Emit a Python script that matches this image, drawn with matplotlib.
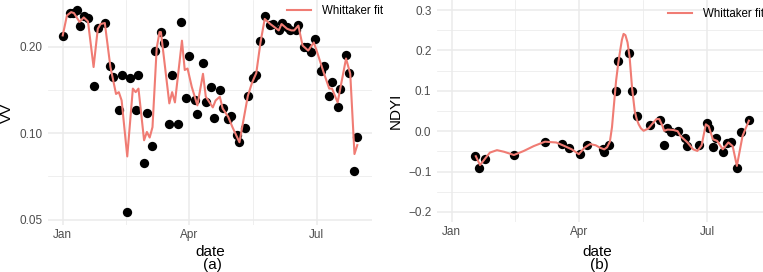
import pandas as pd
import numpy as np
import matplotlib
matplotlib.use('Agg')
import matplotlib.pyplot as plt
import matplotlib.dates as mdates
from matplotlib.ticker import FixedLocator, NullFormatter

plt.rcParams['font.family'] = ['Liberation Sans', 'DejaVu Sans']

start = pd.Timestamp('2019-01-01')

# panel (a): VV observations (day offset from Jan 1, value)
vv_day = [0, 5, 7, 10, 12, 15, 18, 22, 25, 30, 34, 36, 40, 42, 46, 48, 52, 54,
          58, 60, 64, 66, 70, 72, 76, 78, 82, 84, 88, 90, 94, 96, 100, 102,
          106, 108, 112, 114, 118, 120, 124, 126, 130, 132, 136, 138, 141,
          144, 148, 150, 154, 156, 160, 162, 166, 168, 172, 174, 177, 180,
          184, 186, 190, 192, 196, 198, 202, 204, 208, 210]
vv_val = [0.218, 0.262, 0.263, 0.268, 0.237, 0.255, 0.252, 0.146, 0.233, 0.242,
          0.171, 0.157, 0.120, 0.160, 0.053, 0.156, 0.120, 0.160, 0.0785, 0.118,
          0.090, 0.194, 0.225, 0.206, 0.1075, 0.160, 0.108, 0.244, 0.133, 0.185,
          0.131, 0.117, 0.175, 0.128, 0.145, 0.113, 0.141, 0.122, 0.112, 0.115,
          0.0984, 0.093, 0.1046, 0.135, 0.156, 0.160, 0.209, 0.255, 0.239, 0.240,
          0.229, 0.242, 0.234, 0.229, 0.228, 0.239, 0.200, 0.199, 0.192, 0.213,
          0.165, 0.172, 0.135, 0.151, 0.123, 0.142, 0.187, 0.162, 0.074, 0.097]

# panel (a): Whittaker fit
vv_fit_day = [0, 3, 6, 8, 12, 15, 18, 22, 25, 27, 30, 34, 38, 40, 42, 46, 50,
              52, 54, 58, 60, 62, 64, 67, 69, 70, 76, 78, 80, 85, 87, 89, 92,
              96, 100, 102, 107, 109, 112, 114, 118, 121, 126, 132, 135, 138,
              141, 144, 148, 151, 154, 156, 160, 163, 165, 168, 171, 175, 179,
              181, 186, 190, 192, 196, 202, 205, 208, 210]
vv_fit = [0.219, 0.257, 0.264, 0.262, 0.244, 0.253, 0.245, 0.170, 0.231, 0.240,
          0.242, 0.170, 0.137, 0.139, 0.130, 0.083, 0.143, 0.139, 0.143, 0.0945,
          0.101, 0.0966, 0.105, 0.198, 0.225, 0.225, 0.127, 0.139, 0.128, 0.210,
          0.166, 0.168, 0.145, 0.125, 0.161, 0.134, 0.123, 0.130, 0.134, 0.122,
          0.114, 0.105, 0.093, 0.135, 0.150, 0.162, 0.207, 0.250, 0.240, 0.234,
          0.228, 0.240, 0.231, 0.228, 0.228, 0.237, 0.202, 0.194, 0.207, 0.194,
          0.163, 0.143, 0.143, 0.128, 0.182, 0.161, 0.0846, 0.0909]

# panel (b): NDYI observations
nd_day = [16.5, 19, 23.5, 44, 66, 78, 83, 91, 96, 107, 108, 111.5, 116, 118,
          125.5, 127.5, 131, 140.5, 147.5, 150.5, 152.5, 155, 160, 165.5, 167,
          175.5, 180.5, 182.5, 185, 187.5, 192, 195, 197.5, 202, 205, 210.5]
nd_val = [-0.061, -0.092, -0.070, -0.059, -0.026, -0.032, -0.041, -0.057, -0.034,
          -0.045, -0.051, -0.034, 0.099, 0.173, 0.194, 0.099, 0.038, 0.016, 0.027,
          -0.033, 0.007, -0.001, 0.001, -0.017, -0.037, -0.033, 0.021, 0.009,
          -0.038, -0.016, -0.051, -0.030, -0.026, -0.092, -0.002, 0.027]

# panel (b): Whittaker fit
nd_fit_day = [17, 20, 24, 27, 32, 37, 44, 51, 58, 66, 74, 80, 85, 90, 94, 98,
              102, 105, 108, 110, 112, 113.5, 114.5, 116.4, 118, 119.3, 120.5,
              121.7, 123, 124.5, 126, 127.7, 129.6, 131, 132.4, 134, 135.9,
              139.4, 142, 145, 147, 149, 150.5, 153, 157, 160, 162, 167, 171,
              174, 177, 180, 182, 185, 188, 192, 196, 199, 202, 206, 210.5]
nd_fit = [-0.062, -0.084, -0.066, -0.053, -0.047, -0.051, -0.059, -0.049, -0.037,
          -0.026, -0.028, -0.037, -0.045, -0.057, -0.041, -0.032, -0.035, -0.041,
          -0.045, -0.040, -0.026, 0.010, 0.050, 0.125, 0.170, 0.200, 0.226,
          0.241, 0.238, 0.220, 0.183, 0.108, 0.050, 0.030, 0.017, 0.007, 0.001,
          0.007, 0.018, 0.030, 0.030, 0.015, 0.001, 0.004, 0.003, 0.000, -0.012,
          -0.028, -0.045, -0.049, -0.035, 0.017, 0.012, -0.020, -0.024, -0.045,
          -0.028, -0.037, -0.086, -0.012, 0.026]


def to_dates(days):
    return start + pd.to_timedelta(np.array(days, dtype=float), unit='D')


line_col = '#F07C74'
grid_col = '#EBEBEB'
tick_col = '#4D4D4D'
W, H = 763, 272

fig = plt.figure(figsize=(W / 100, H / 100), dpi=100)
ax1 = fig.add_axes([48 / W, 47 / H, 324 / W, 225 / H])
ax2 = fig.add_axes([437 / W, 50 / H, 326 / W, 222 / H])

major_x = [start, pd.Timestamp('2019-04-01'), pd.Timestamp('2019-07-01')]
minor_x = [pd.Timestamp('2019-02-15'), pd.Timestamp('2019-05-16 12:00')]
xlim = (start - pd.Timedelta(days=10.5), start + pd.Timedelta(days=220.5))

for ax, lab in [(ax1, 'VV'), (ax2, 'NDYI')]:
    for s in ax.spines.values():
        s.set_visible(False)
    ax.set_xlim(xlim)
    ax.xaxis.set_major_locator(FixedLocator(mdates.date2num(major_x)))
    ax.xaxis.set_minor_locator(FixedLocator(mdates.date2num(minor_x)))
    ax.xaxis.set_major_formatter(mdates.DateFormatter('%b'))
    ax.tick_params(which='both', length=0, labelsize=8.5, colors=tick_col)
    ax.tick_params(axis='x', pad=3)
    ax.tick_params(axis='y', pad=4)
    ax.grid(which='major', color=grid_col, linewidth=1.1)
    ax.grid(which='minor', color=grid_col, linewidth=0.55)
    ax.set_axisbelow(True)
    ax.set_ylabel(lab, fontsize=11, labelpad=4)

# x titles and panel captions
for cx, cap in [(210, '(a)'), (597, '(b)')]:
    fig.text(cx / W, 1 - 252.5 / H, 'date', fontsize=11, ha='center', va='center')
    fig.text((cx + 2) / W, 1 - 265.5 / H, cap, fontsize=11, ha='center', va='center')

# (a) VV on log scale
ax1.scatter(to_dates(vv_day), vv_val, s=45, color='black', zorder=2, linewidths=0)
ax1.plot(to_dates(vv_fit_day), vv_fit, color=line_col, lw=1.5, zorder=3,
         label='Whittaker fit')
ax1.set_yscale('log')
ax1.set_ylim(0.0479, 0.291)
ax1.yaxis.set_major_locator(FixedLocator([0.05, 0.10, 0.20]))
ax1.yaxis.set_minor_locator(FixedLocator([0.05 * 2 ** 0.5, 0.10 * 2 ** 0.5]))
ax1.yaxis.set_minor_formatter(NullFormatter())
ax1.set_yticklabels(['0.05', '0.10', '0.20'])

# (b) NDYI
ax2.scatter(to_dates(nd_day), nd_val, s=45, color='black', zorder=2, linewidths=0)
ax2.plot(to_dates(nd_fit_day), nd_fit, color=line_col, lw=1.5, zorder=3,
         label='Whittaker fit')
ax2.set_ylim(-0.225, 0.325)
ax2.yaxis.set_major_locator(FixedLocator([-0.2, -0.1, 0.0, 0.1, 0.2, 0.3]))
ax2.yaxis.set_minor_locator(FixedLocator([-0.15, -0.05, 0.05, 0.15, 0.25]))
ax2.set_yticklabels(['\u22120.2', '\u22120.1', '0.0', '0.1', '0.2', '0.3'])

ax1.legend(loc='upper right', bbox_to_anchor=(1.04, 0.99), frameon=False,
           fontsize=8.3, handlelength=2.1, borderaxespad=0.0, borderpad=0.2,
           handletextpad=0.9)
ax2.legend(loc='upper right', bbox_to_anchor=(1.01, 0.975), frameon=False,
           fontsize=8.3, handlelength=2.1, borderaxespad=0.0, borderpad=0.2,
           handletextpad=0.9)

fig.savefig('out.png', dpi=100)
